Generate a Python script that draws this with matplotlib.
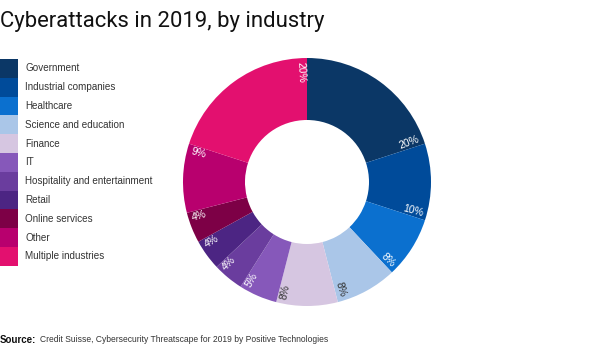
import matplotlib.pyplot as plt
import numpy as np

industries = ["Government", "Industrial companies", "Healthcare", "Science and education",
              "Finance", "IT", "Hospitality and entertainment", "Retail",
              "Online services", "Other", "Multiple industries"]
shares = [20, 10, 8, 8, 8, 5, 4, 4, 4, 9, 20]
colors = ["#0b3766", "#004b9a", "#0b70cf", "#aac6e8", "#d6c6e1", "#8658ba",
          "#6a3d9e", "#4c2583", "#7d0046", "#b8006e", "#e3106f"]

W, H = 600, 357
fig = plt.figure(figsize=(W / 100, H / 100), dpi=100)

# page-level axes in pixel coordinates for title, legend, source
page = fig.add_axes([0, 0, 1, 1])
page.set_xlim(0, W)
page.set_ylim(H, 0)
page.axis("off")

page.text(0, 21, "Cyberattacks in 2019, by industry", fontsize=15.9,
          family="Roboto", va="center", ha="left", color="#111111")

row_h = 18.8
top = 59
ys = top + row_h / 2 + np.arange(len(industries)) * row_h
page.barh(ys, 18, height=row_h, left=0, color=colors)
for y, name in zip(ys, industries):
    page.text(25, y, name, fontsize=7.1, family="Liberation Sans",
              va="center", ha="left", color="#333333")

src = page.text(0, 340, "Source:", fontsize=7.0, family="Liberation Sans",
                fontweight="bold", va="center", ha="left", color="#111111")
page.annotate("Credit Suisse, Cybersecurity Threatscape for 2019 by Positive Technologies",
              xy=(1, 0.5), xycoords=src, xytext=(2.5, 0), textcoords="offset points",
              fontsize=6.15, family="Liberation Sans", va="center", ha="left",
              color="#333333")

# donut
cx, cy, r = 307, 182, 124
ax = fig.add_axes([(cx - r) / W, (H - cy - r) / H, 2 * r / W, 2 * r / H])
wedges, _ = ax.pie(shares, colors=colors, startangle=90, counterclock=False,
                   radius=1, wedgeprops=dict(width=0.5, linewidth=0))
ax.set_xlim(-1, 1)
ax.set_ylim(-1, 1)
ax.axis("off")

for w, v in zip(wedges, shares):
    ang = w.theta1 + 3.0
    a = np.deg2rad(ang)
    x, y = 0.97 * np.cos(a), 0.97 * np.sin(a)
    ang_n = (ang + 180) % 360 - 180
    if -90 <= ang_n <= 90:
        rot, ha = ang_n, "right"
    else:
        rot, ha = ang_n - 180, "left"
    tc = "#333333" if v == 8 and w.get_facecolor()[0] > 0.6 else "white"
    ax.text(x, y, f"{v}%", rotation=rot, rotation_mode="anchor", ha=ha,
            va="center", fontsize=7.5, family="Liberation Sans", color=tc)

fig.savefig("out.png", dpi=100)
